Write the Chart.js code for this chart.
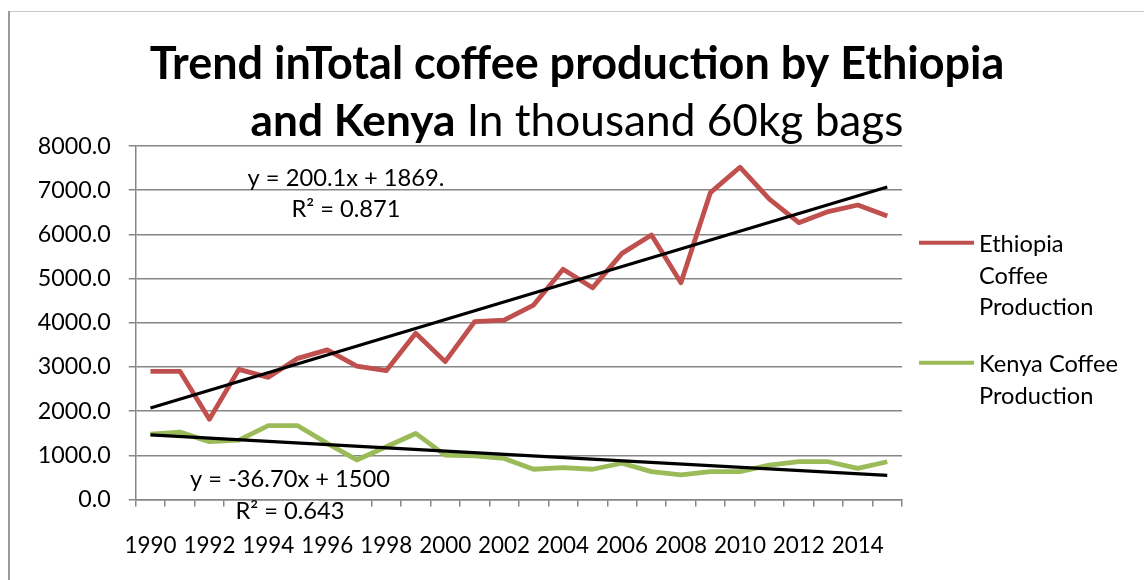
<!DOCTYPE html>
<html>
<head>
<meta charset="utf-8">
<script src="https://cdn.jsdelivr.net/npm/chart.js@4.4.1/dist/chart.umd.min.js"></script>
<style>
  html, body { margin: 0; padding: 0; background: #ffffff; }
  #wrap { position: relative; width: 1144px; height: 580px; }
  canvas { display: block; }
</style>
</head>
<body>
<div id="wrap"><canvas id="c" width="1144" height="580"></canvas></div>
<script>
// ---------------- data ----------------
const years = ['1990','1991','1992','1993','1994','1995','1996','1997','1998','1999',
               '2000','2001','2002','2003','2004','2005','2006','2007','2008','2009',
               '2010','2011','2012','2013','2014','2015'];
const ethiopia = [2900, 2900, 1815, 2945, 2765, 3195, 3385, 3020, 2915, 3760,
                  3120, 4025, 4060, 4400, 5210, 4790, 5570, 5985, 4905, 6945,
                  7520, 6795, 6265, 6515, 6665, 6415];
const kenya    = [1480, 1525, 1310, 1345, 1670, 1670, 1270, 895, 1195, 1495,
                  1005, 985, 930, 685, 720, 685, 820, 630, 555, 630,
                  630, 780, 855, 855, 705, 855];
// trendline end values (first year, last year)
const ethiopiaTrendEnds = [2069, 7071];
const kenyaTrendEnds    = [1463, 546];
const seriesNames = ['Ethiopia Coffee Production', 'Kenya Coffee Production'];
const legendLines = [['Ethiopia', 'Coffee', 'Production'], ['Kenya Coffee', 'Production']];
const trendLabels = [['y = 200.1x + 1869.', 'R\u00B2 = 0.871'], ['y = -36.70x + 1500', 'R\u00B2 = 0.643']];
const titleLine1 = 'Trend inTotal coffee production by Ethiopia';
const titleLine2Bold = 'and Kenya';
const titleLine2Normal = ' In thousand 60kg bags';
const yTickValues = [0, 1000, 2000, 3000, 4000, 5000, 6000, 7000, 8000];

// ---------------- helpers ----------------
const FAMILY = 'Lato, "Open Sans", "DejaVu Sans", sans-serif';
const mctx = document.createElement('canvas').getContext('2d');
function measure(text, weight) {
  mctx.font = weight + ' 100px ' + FAMILY;
  return mctx.measureText(text).width;
}
function fitSize(text, weight, target) { return 100 * target / measure(text, weight); }

const tickSize = fitSize('1990', 'normal', 52);
const ySize = fitSize('8000.0', 'normal', 73);
const legendSize = fitSize('Kenya Coffee', 'normal', 139);
const eqSize = fitSize(trendLabels[0][0], 'normal', 197);

function endsToSeries(ends) {
  const arr = years.map(() => null);
  arr[0] = ends[0];
  arr[years.length - 1] = ends[1];
  return arr;
}

const RED = '#C0504D', GREEN = '#9BBB59', GRID = '#868686';

const decor = {
  id: 'decor',
  beforeDraw(chart) {
    const ctx = chart.ctx;
    ctx.save();
    ctx.fillStyle = '#ffffff';
    ctx.fillRect(0, 0, chart.width, chart.height);
    // outer chart frame (left and top edges visible)
    ctx.strokeStyle = '#c8c8c8';
    ctx.lineWidth = 1;
    ctx.beginPath(); ctx.moveTo(8, 11.5); ctx.lineTo(chart.width, 11.5); ctx.stroke();
    ctx.strokeStyle = '#9a9a9a';
    ctx.lineWidth = 2;
    ctx.beginPath(); ctx.moveTo(9, 11); ctx.lineTo(9, chart.height); ctx.stroke();
    ctx.restore();
  },
  afterDraw(chart) {
    const ctx = chart.ctx;
    ctx.save();
    ctx.fillStyle = '#000';
    ctx.textBaseline = 'alphabetic';
    // title
    const cx = 577;
    const s1 = fitSize(titleLine1, 'bold', 855);
    ctx.font = 'bold ' + s1 + 'px ' + FAMILY;
    ctx.textAlign = 'center';
    ctx.fillText(titleLine1, cx, 79);
    const w2at100 = measure(titleLine2Bold, 'bold') + measure(titleLine2Normal, 'normal');
    const s2 = 100 * 653 / w2at100;
    ctx.font = 'bold ' + s2 + 'px ' + FAMILY;
    const wb = ctx.measureText(titleLine2Bold).width;
    ctx.font = 'normal ' + s2 + 'px ' + FAMILY;
    const wn = ctx.measureText(titleLine2Normal).width;
    const x0 = cx - (wb + wn) / 2;
    ctx.textAlign = 'left';
    ctx.font = 'bold ' + s2 + 'px ' + FAMILY;
    ctx.fillText(titleLine2Bold, x0, 136);
    ctx.font = 'normal ' + s2 + 'px ' + FAMILY;
    ctx.fillText(titleLine2Normal, x0 + wb, 136);

    // legend
    const legendY = [242.7, 362.7];
    ctx.textBaseline = 'middle';
    ctx.font = 'normal ' + legendSize + 'px ' + FAMILY;
    [0, 1].forEach((k) => {
      const ds = chart.data.datasets.find(d => d.label === seriesNames[k]);
      ctx.strokeStyle = ds.borderColor;
      ctx.lineWidth = 4;
      ctx.beginPath(); ctx.moveTo(919, legendY[k]); ctx.lineTo(974, legendY[k]); ctx.stroke();
      ctx.fillStyle = '#000';
      legendLines[k].forEach((ln, j) => ctx.fillText(ln, 979, legendY[k] + 2 + j * 31.5));
    });

    // trendline equations
    ctx.font = 'normal ' + eqSize + 'px ' + FAMILY;
    ctx.textAlign = 'center';
    // white box behind the lower Kenya line (hides the axis as in the original)
    ctx.fillStyle = '#ffffff';
    ctx.fillRect(229, 501, 130, 22);
    ctx.fillStyle = '#000';
    ctx.fillText(trendLabels[0][0], 346, 178);
    ctx.fillText(trendLabels[0][1], 346, 209);
    ctx.fillText(trendLabels[1][0], 290, 479);
    ctx.fillText(trendLabels[1][1], 290, 511);
    ctx.restore();
  }
};

new Chart(document.getElementById('c'), {
  type: 'line',
  data: {
    labels: years,
    datasets: [
      { label: 'Ethiopia trend', data: endsToSeries(ethiopiaTrendEnds), borderColor: '#000', borderWidth: 3.2,
        pointRadius: 0, spanGaps: true, tension: 0, order: 0 },
      { label: 'Kenya trend', data: endsToSeries(kenyaTrendEnds), borderColor: '#000', borderWidth: 3.2,
        pointRadius: 0, spanGaps: true, tension: 0, order: 0 },
      { label: seriesNames[0], data: ethiopia, borderColor: RED, borderWidth: 4.8,
        pointRadius: 0, tension: 0, order: 1, borderJoinStyle: 'round' },
      { label: seriesNames[1], data: kenya, borderColor: GREEN, borderWidth: 4.8,
        pointRadius: 0, tension: 0, order: 1, borderJoinStyle: 'round' }
    ]
  },
  options: {
    responsive: false,
    devicePixelRatio: 1,
    animation: false,
    layout: { padding: { left: 0, right: 242, top: 146, bottom: 0 } },
    plugins: { legend: { display: false }, title: { display: false }, tooltip: { enabled: false } },
    scales: {
      x: {
        type: 'category',
        offset: true,
        grid: { display: true, drawOnChartArea: false, drawTicks: true, tickLength: 7,
                color: GRID, lineWidth: 1.5, offset: true },
        border: { color: GRID, width: 1.5 },
        ticks: {
          autoSkip: false, maxRotation: 0, minRotation: 0, padding: 26, color: '#000',
          font: { family: FAMILY, size: tickSize },
          callback: (v, i) => (i % 2 === 0 ? years[i] : '')
        },
        afterFit: (s) => { s.height = 80.5; }
      },
      y: {
        min: 0, max: 8000,
        afterBuildTicks: (s) => { s.ticks = yTickValues.map(v => ({ value: v })); },
        grid: { color: GRID, lineWidth: 1.5, tickLength: 7, drawTicks: true },
        border: { color: GRID, width: 1.5 },
        ticks: {
          padding: 18, color: '#000',
          font: { family: FAMILY, size: ySize },
          callback: (v) => Number(v).toFixed(1)
        },
        afterFit: (s) => { s.width = 135.7; }
      }
    }
  },
  plugins: [decor]
});
</script>
</body>
</html>
